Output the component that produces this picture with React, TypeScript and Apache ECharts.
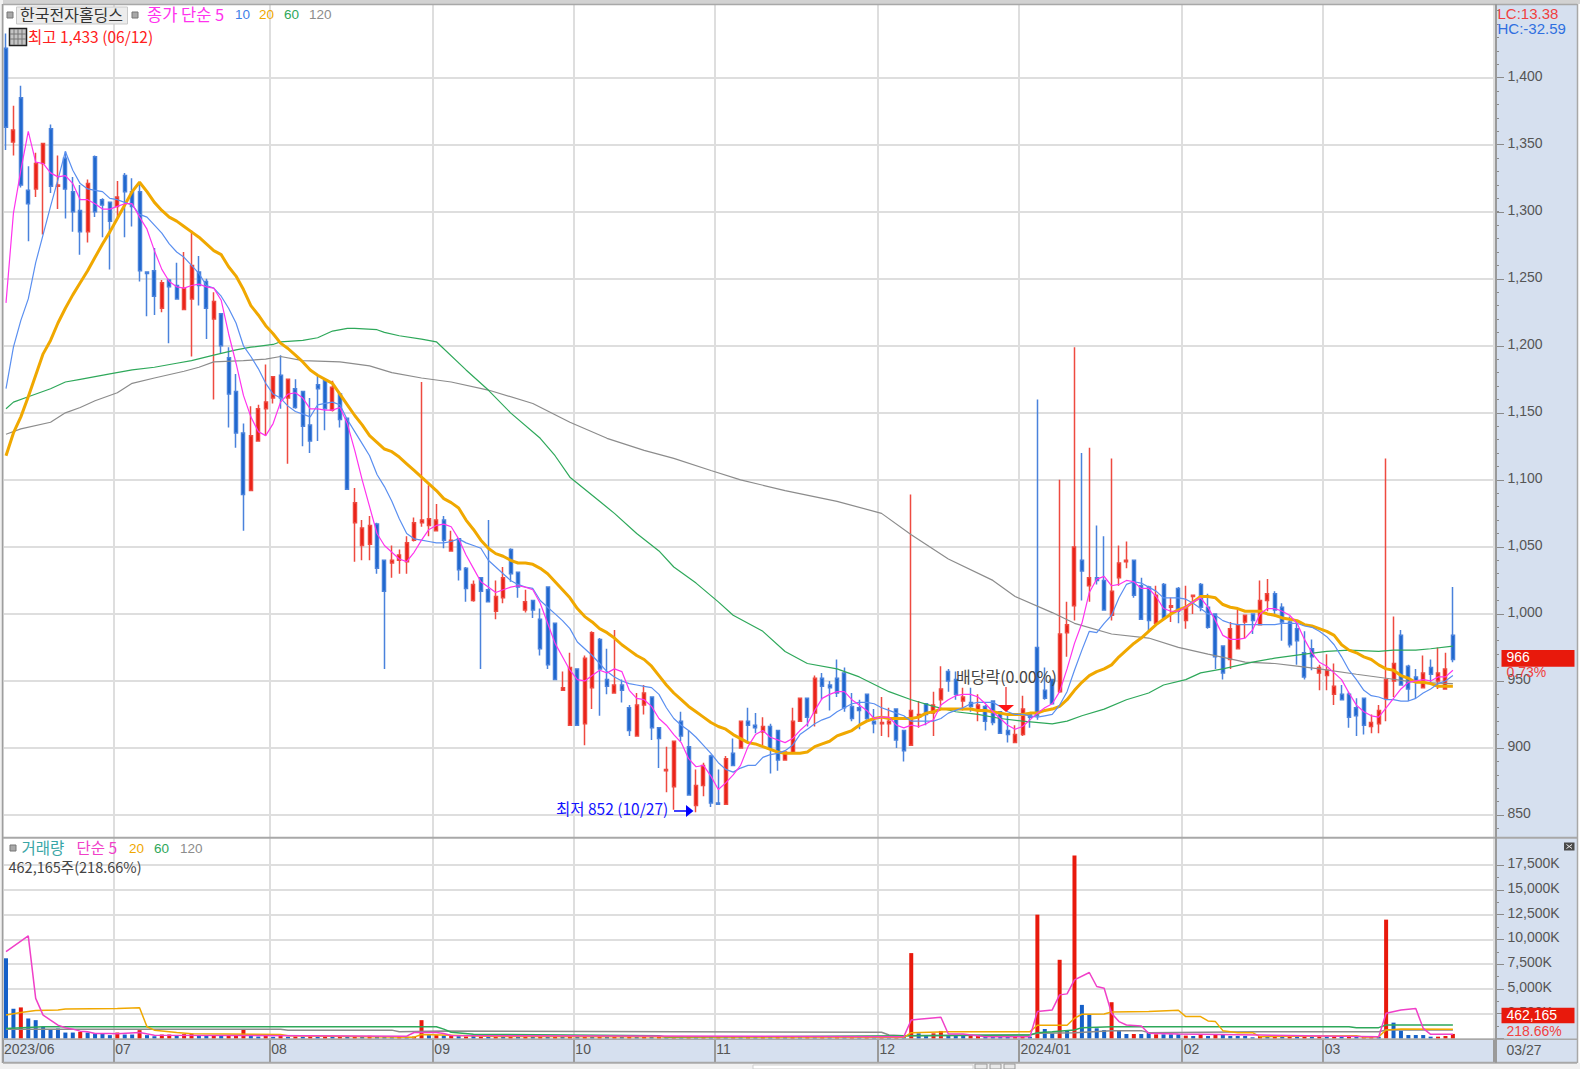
import React, { useEffect, useRef } from "react";
import * as echarts from "echarts";

const opens = [1422,1352,1385,1316,1317,1336,1362,1319,1340,1315,1301,1285,1341,1309,1307,1304,1327,1315,1315,1255,1256,1228,1249,1245,1227,1235,1255,1248,1220,1224,1191,1166,1135,1092,1129,1153,1161,1178,1161,1168,1166,1141,1171,1174,1152,1164,1146,1068,1051,1052,1067,1040,1038,1040,1039,1055,1068,1066,1062,1070,1047,1056,1034,1010,1027,1018,1002,1012,1048,1031,1003,1010,996,1020,993,943,917,959,918,945,981,951,941,947,930,909,932,938,915,883,871,920,901,857,872,894,859,858,896,900,920,917,912,916,913,891,896,920,937,926,952,947,952,956,931,930,940,920,918,918,929,913,902,923,933,926,936,957,951,935,934,928,931,935,927,913,904,910,925,975,943,951,942,986,1006,1040,1021,1027,1025,999,1027,1039,1040,1021,1020,993,1022,1005,1019,995,1013,1022,1005,1000,976,966,974,994,1000,992,1010,1015,1005,994,989,971,974,956,954,940,940,940,930,937,916,918,937,950,984,961,953,945,960,950,944,984];
const closes = [1363,1361,1320,1306,1336,1351,1319,1320,1317,1300,1285,1321,1300,1305,1293,1311,1315,1304,1256,1254,1237,1247,1244,1235,1243,1260,1245,1228,1233,1200,1164,1135,1089,1133,1153,1158,1177,1161,1175,1154,1140,1129,1168,1153,1169,1145,1093,1083,1064,1066,1034,1017,1040,1044,1053,1068,1070,1071,1070,1055,1055,1033,1019,1022,1017,1009,1013,1027,1030,1020,1009,1003,974,962,951,945,960,917,967,986,959,946,947,943,913,932,941,915,907,884,905,909,865,872,887,859,858,892,887,920,917,915,916,899,891,897,920,937,923,952,946,945,941,930,922,928,922,918,919,920,906,898,928,925,925,932,944,950,940,938,931,932,920,919,911,910,910,929,923,924,937,933,985,992,1050,1032,1027,1025,1003,1017,1038,1040,1014,996,995,1014,997,1006,1002,1005,1014,1005,990,968,956,989,992,999,995,1010,1015,1003,994,977,980,953,968,960,958,946,936,923,924,917,919,928,951,963,947,944,950,956,955,956,959,966];
const lows = [1346,1342,1318,1278,1311,1283,1314,1302,1295,1285,1268,1277,1296,1281,1257,1296,1281,1289,1248,1222,1223,1225,1202,1235,1227,1192,1230,1205,1160,1194,1139,1124,1062,1092,1129,1133,1157,1153,1112,1153,1125,1120,1129,1137,1151,1139,1093,1039,1040,1040,1030,959,1027,1030,1030,1054,1065,1058,1062,1049,1047,1025,1009,1009,959,1009,996,1008,1024,1012,1001,997,969,959,951,943,917,917,902,929,924,940,941,934,909,909,925,906,885,867,854,905,865,852,864,856,858,858,887,900,904,911,902,881,883,891,896,920,916,916,936,928,938,927,920,914,921,911,909,908,900,890,902,915,917,909,931,942,936,928,927,920,913,917,911,904,904,909,915,921,936,933,941,968,995,1010,1009,1022,1003,995,1021,1034,1012,996,987,991,997,994,993,989,1000,1002,989,959,951,959,974,982,985,992,1002,998,980,975,962,951,958,943,943,932,936,915,909,910,911,911,920,938,947,935,937,945,949,944,944,964];
const highs = [1433,1379,1394,1334,1344,1351,1365,1342,1345,1326,1320,1324,1342,1310,1307,1323,1329,1325,1320,1255,1273,1249,1250,1262,1270,1286,1267,1250,1240,1224,1199,1179,1142,1155,1156,1186,1177,1193,1175,1175,1166,1161,1178,1174,1174,1165,1146,1094,1070,1073,1068,1040,1051,1048,1058,1072,1173,1096,1082,1073,1062,1056,1035,1025,1027,1070,1025,1035,1049,1031,1018,1010,1004,1020,993,957,971,959,969,987,982,974,988,951,932,941,947,938,915,901,905,927,913,884,889,895,884,894,907,920,930,926,923,918,913,897,930,937,937,954,956,950,966,960,941,936,940,929,938,930,929,913,1089,935,933,942,961,959,957,945,945,940,932,935,927,925,917,939,925,1160,960,951,1100,1009,1199,1120,1124,1066,1058,1116,1051,1054,1040,1027,1021,1021,1023,1012,1020,1021,1014,1023,1015,1000,976,994,1003,999,1000,1025,1026,1017,1008,998,995,987,981,962,970,963,947,942,937,937,925,932,1116,998,988,962,959,969,966,975,971,1020];

const ma5 = [1232,1299,1331,1360,1337,1336,1329,1326,1327,1321,1309,1309,1306,1302,1302,1304,1306,1306,1296,1287,1271,1257,1248,1244,1243,1245,1246,1244,1243,1234,1209,1187,1163,1147,1136,1133,1142,1158,1164,1165,1161,1153,1153,1152,1152,1154,1142,1122,1100,1080,1060,1051,1046,1041,1039,1046,1055,1063,1066,1067,1065,1056,1044,1034,1024,1020,1016,1018,1020,1021,1020,1018,1008,993,978,968,958,951,950,954,958,956,959,957,943,937,936,931,922,917,910,904,892,886,887,879,869,874,880,887,901,910,913,908,906,904,907,913,918,928,937,940,942,942,936,932,928,922,923,923,917,915,917,916,918,921,932,936,939,940,940,938,933,927,922,917,914,916,921,926,930,933,942,959,978,993,1016,1026,1028,1021,1022,1025,1024,1019,1019,1013,1004,1002,1002,1005,1009,1012,1005,995,984,981,981,982,988,1000,1004,1004,1002,999,993,981,971,964,961,956,951,941,932,927,924,923,930,937,944,949,950,951,950,953,953,958];
const ma10 = [1168,1199,1219,1235,1262,1283,1304,1324,1345,1331,1321,1317,1316,1315,1310,1309,1307,1305,1298,1296,1290,1284,1276,1270,1266,1260,1254,1245,1243,1237,1228,1217,1200,1192,1183,1172,1164,1161,1155,1151,1149,1147,1156,1157,1158,1156,1145,1136,1127,1118,1104,1095,1084,1071,1060,1056,1055,1054,1053,1053,1054,1056,1053,1051,1049,1040,1035,1030,1025,1022,1020,1019,1010,1005,1000,995,989,979,974,969,963,957,953,950,948,947,946,945,940,930,922,917,913,908,902,896,889,884,882,885,887,887,893,895,896,898,902,910,914,918,921,923,927,930,933,934,934,933,930,928,926,924,920,920,920,920,922,926,928,930,933,934,934,934,931,927,925,925,924,923,924,925,932,942,958,973,987,986,993,999,1012,1022,1024,1023,1020,1017,1012,1012,1012,1011,1008,1004,1000,999,995,993,992,992,992,992,992,992,993,993,993,991,990,987,983,977,968,958,951,943,939,938,936,936,935,935,937,941,944,948,950,954];
const ma20 = [1118,1135,1147,1162,1178,1194,1204,1217,1228,1238,1247,1256,1266,1276,1285,1295,1305,1315,1322,1315,1307,1301,1296,1293,1289,1285,1281,1276,1271,1268,1259,1252,1242,1230,1223,1215,1209,1202,1198,1193,1188,1182,1178,1175,1172,1164,1156,1148,1141,1133,1128,1123,1121,1117,1112,1107,1102,1097,1092,1086,1083,1079,1070,1063,1055,1049,1045,1043,1040,1038,1038,1037,1034,1030,1024,1018,1012,1004,998,994,989,986,982,977,973,969,966,961,954,947,941,936,931,927,923,919,916,914,910,907,904,903,901,899,897,896,896,896,897,901,903,905,909,911,913,917,920,922,923,922,922,922,922,923,926,927,929,929,929,929,929,928,928,927,926,925,925,925,926,926,928,929,931,936,943,949,954,957,959,962,968,973,978,982,987,992,996,1000,1003,1005,1009,1013,1013,1012,1007,1005,1004,1002,1002,1002,1000,999,997,996,995,992,991,989,987,984,977,973,971,968,966,962,959,958,954,952,949,949,948,946,946,946];
const ma60: [number, number][] = [[0,1153],[1,1158],[3,1162],[6,1168],[8,1173],[10,1175],[14,1179],[17,1182],[20,1184],[23,1187],[25,1189],[28,1193],[31,1197],[33,1199],[36,1201],[37,1203],[40,1204],[42,1206],[44,1211],[46,1213],[47,1213],[50,1212],[51,1210],[53,1207.5],[56,1205],[58,1203],[62,1182],[65,1167],[68,1150],[72,1131],[74,1118],[76,1102],[80,1084],[82,1075],[85,1060],[88,1047],[90,1035],[93,1023],[96,1009],[98,999],[102,987],[105,972],[108,963],[112,959],[115,953],[119,942],[122,936],[125,931],[128,927],[131,925],[134,922],[137,920],[141,918],[143,920],[145,924],[148,929],[151,936],[154,941],[156,947],[159,951],[161,956],[164,959],[168,964],[171,967],[175,970],[178,972],[181,973],[185,972],[187,973],[190,973],[192,974],[195,976]];
const ma120: [number, number][] = [[0,1134],[2,1138],[6,1143],[8,1150],[10,1154],[12,1159],[15,1165],[17,1172],[20,1176],[24,1181],[26,1184],[28,1188],[32,1189],[35,1190],[37,1192],[40,1189],[45,1188],[49,1185],[52,1180],[56,1176],[60,1173],[65,1167],[71,1157],[76,1143],[81,1131],[86,1122],[90,1116],[95,1107],[99,1100],[105,1092],[112,1084],[118,1075],[122,1059],[127,1041],[133,1025],[136,1013],[141,1001],[144,993],[149,985],[154,982],[158,975],[162,970],[167,964],[171,963],[174,961],[177,959],[182,955],[186,952],[190,949],[195,948]];

const volumes = [8090,3000,3135,2020,1850,1180,940,1010,600,600,670,600,500,500,340,600,400,400,840,340,230,400,400,270,440,500,270,270,300,300,300,330,940,400,200,400,170,280,170,200,170,200,170,200,170,200,170,200,170,270,240,170,140,200,170,200,1850,340,340,300,300,240,200,250,180,220,170,220,180,230,170,210,170,230,170,200,160,230,170,210,160,220,170,210,170,220,180,220,170,200,170,210,160,200,170,200,170,220,170,210,150,210,160,190,150,200,150,200,150,190,150,200,150,190,150,180,150,190,140,180,140,180,8614,520,290,520,760,290,290,290,250,250,185,185,185,185,185,250,185,12490,960,520,7940,860,18460,3390,2380,1030,860,3660,860,455,455,455,590,420,420,420,420,290,250,455,250,455,455,250,250,250,120,250,150,180,160,190,160,200,170,200,170,190,170,250,250,185,185,185,11990,1600,790,350,350,350,185,185,250,462];
const volumeRedDays = [2,10,15,18,21,22,24,25,28,30,31,32,35,37,39,41,43,45,47,49,53,55,56,58,60,62,64,66,68,70,72,74,76,78,80,82,84,86,88,90,92,94,96,98,100,102,104,106,108,110,112,114,116,118,120,122,125,126,130,131,136,137,139,142,144,149,152,155,159,161,163,169,171,173,175,177,179,181,183,184,186,193,194,195];
const volMa5: [number, number][] = [[0,8766],[3,10350],[4,4046],[5,2360],[6,1854],[7,1349],[8,1079],[9,944],[10,742],[11,674],[12,506],[14,506],[15,472],[18,607],[20,337],[54,236],[55,607],[58,607],[59,506],[60,300],[121,185],[122,1871],[123,1950],[126,2141],[127,455],[129,455],[132,185],[138,185],[139,2714],[141,2883],[142,4400],[143,4501],[144,5917],[146,6659],[147,5243],[148,5074],[149,2545],[150,1703],[151,1365],[153,1264],[154,522],[158,455],[169,354],[185,185],[186,2545],[188,2883],[190,3017],[191,1028],[192,421],[195,421]];
const volMa20: [number, number][] = [[0,2360],[2,2630],[4,2832],[7,2866],[8,2967],[15,3034],[18,3100],[19,1180],[20,843],[23,607],[25,472],[37,405],[38,270],[55,135],[56,405],[60,337],[66,200],[121,118],[122,590],[127,690],[138,690],[139,1332],[143,1332],[144,2040],[145,2444],[148,2478],[149,2680],[154,2714],[158,2849],[159,2208],[161,2208],[162,1770],[163,1703],[164,792],[166,590],[168,590],[169,185],[182,287],[183,118],[185,185],[186,860],[188,960],[195,927]];
const volMa60: [number, number][] = [[0,1011],[5,1180],[58,1180],[59,944],[60,624],[63,421],[88,287],[89,118],[121,287],[138,354],[139,590],[141,690],[144,860],[145,1096],[149,1197],[181,1197],[182,1096],[185,1096],[186,1365],[195,1365]];
const volMa120: [number, number][] = [[0,944],[37,944],[38,843],[52,843],[53,674],[59,758],[118,624],[119,354],[121,287],[138,354],[139,522],[144,590],[149,792],[153,792],[154,590],[169,690],[185,690],[186,860],[195,860]];

const monthTicks: Record<number, string> = { 0: "2023/06", 15: "07", 36: "08", 58: "09", 77: "10", 96: "11", 118: "12", 137: "2024/01", 159: "02", 178: "03" };
const priceTicks = { min: 850, max: 1400, step: 50 };
const volumeTicks = { min: 0, max: 17500, step: 2500 };

const FONT = '"Liberation Sans",sans-serif';
const KR = '"Noto Sans CJK KR",sans-serif';
const RED = "#e8190c";
const BLUE = "#1560c8";
const PANEL = "#d6e0ef";
const LINE = "#dedede";

const bandCount = 201;
const categories = Array.from({ length: bandCount }, (_, i) => monthTicks[i] ?? String(i));
const isMonth = (i: number) => monthTicks[i] !== undefined;

const txt = (text: string, x: number, y: number, fill: string, fontSize = 14, fontFamily = FONT) => ({
  type: "text" as const,
  z: 100,
  silent: true,
  style: { text, x, y, fill, fontSize, fontFamily, verticalAlign: "middle", align: "left" },
});
const box = (x: number, y: number, width: number, height: number, fill: string, stroke?: string, z = 100, lineWidth = 1) => ({
  type: "rect" as const,
  z,
  silent: true,
  shape: { x, y, width, height },
  style: { fill, stroke: stroke ?? "none", lineWidth },
});
const seg = (x1: number, y1: number, x2: number, y2: number, stroke: string, lineWidth = 1, z = 100) => ({
  type: "line" as const,
  z,
  silent: true,
  shape: { x1, y1, x2, y2 },
  style: { stroke, lineWidth },
});

const gridIcon = [
  box(9.5, 28.5, 17, 17, "#c4c4c4", "#222", 100, 1.5),
  seg(14, 29, 14, 45, "#777"),
  seg(18, 29, 18, 45, "#777"),
  seg(22, 29, 22, 45, "#777"),
  seg(10, 34, 26, 34, "#777"),
  seg(10, 39, 26, 39, "#777"),
];

const graphics = [
  box(0, 0, 1580, 4, "#d2d2d2", undefined, -5),
  box(0, 0, 3, 1069, "#f1f1f1", undefined, -5),
  box(1496, 4, 81, 1058, PANEL, undefined, -5),
  box(3, 1039.5, 1574, 23, PANEL, undefined, -5),
  box(0, 1063, 1580, 6, "#f1f1f1", undefined, 90),
  box(753, 1065, 220, 4, "#ffffff", "#cfcfcf", 91),
  box(975, 1064, 12, 5, "#e9e9e9", "#999", 91),
  box(990, 1064, 11, 5, "#e9e9e9", "#999", 91),
  box(1004, 1064, 11, 5, "#e9e9e9", "#999", 91),
  seg(3, 4.5, 1577, 4.5, "#a8a8a8", 1.5, 95),
  seg(2.5, 4, 2.5, 1063, "#9e9e9e", 1.5, 95),
  seg(3, 837.7, 1577, 837.7, "#a8a8a8", 2, 95),
  seg(3, 1039.3, 1577, 1039.3, "#a8a8a8", 1.5, 95),
  seg(3, 1062.7, 1577, 1062.7, "#a8a8a8", 2, 95),
  seg(1496, 4, 1496, 1063, "#9a9a9a", 2, 95),
  seg(1577.5, 4, 1577.5, 1063, "#a8a8a8", 1.5, 95),

  box(7, 12, 6, 6, "#a8a8a8", "#777"),
  box(16.5, 7, 111, 17, "#ececec", "#c9c9c9"),
  txt("한국전자홀딩스", 20, 14, "#333", 16, KR),
  box(132, 12, 6, 6, "#a8a8a8", "#777"),
  txt("종가 단순 5", 147, 13.5, "#ff33ee", 16.5, KR),
  txt("10", 235, 14, "#3f7fe8", 13.5),
  txt("20", 259, 14, "#f0a800", 13.5),
  txt("60", 284, 14, "#2ea85a", 13.5),
  txt("120", 309, 14, "#8c8c8c", 13.5),
  ...gridIcon,
  txt("최고 1,433 (06/12)", 28, 35.5, "#ff2020", 15.5, KR),

  txt("최저 852 (10/27)", 556, 808, "#1414ff", 15.5, KR),
  seg(674, 811, 688, 811, "#0000ff", 1.5),
  { type: "polygon" as const, z: 100, silent: true, shape: { points: [[686, 805], [693.5, 811], [686, 817]] }, style: { fill: "#0000ff" } },

  txt("배당락(0.00%)", 956, 675.5, "#444", 16, KR),
  seg(1006, 687, 1006, 705, "#ee2020", 1.2),
  { type: "polygon" as const, z: 100, silent: true, shape: { points: [[998, 705], [1014, 705], [1006, 712]] }, style: { fill: "#ff1414" } },

  txt("LC:13.38", 1497.5, 13, "#f04040", 15),
  txt("HC:-32.59", 1497.5, 28.5, "#2f6fe0", 15),
  box(1501.5, 650, 73, 16.7, "#e8190c"),
  txt("966", 1506.5, 657, "#fff"),
  txt("0.73%", 1506.5, 672, "#f04040"),

  box(10, 845, 6, 6, "#a8a8a8", "#777"),
  txt("거래량", 21.5, 846.5, "#3aa6a6", 15.5, KR),
  txt("단순 5", 76.5, 846.5, "#f040c8", 15.5, KR),
  txt("20", 129, 848, "#f0a800", 13.5),
  txt("60", 154, 848, "#2ea85a", 13.5),
  txt("120", 180, 848, "#8c8c8c", 13.5),
  txt("462,165주(218.66%)", 8.5, 866, "#444", 14.5, KR),
  box(1564, 842.5, 10.5, 8, "#4a4a4a"),
  seg(1566.5, 844.5, 1572, 848.5, "#eee"),
  seg(1566.5, 848.5, 1572, 844.5, "#eee"),

  box(1501.5, 1007.7, 73, 15.6, "#e8190c"),
  txt("462,165", 1506.5, 1015, "#fff"),
  txt("218.66%", 1506.5, 1030.5, "#f04040"),
  txt("03/27", 1506.5, 1050, "#555"),
];

const gridLeft = 2.3;
const gridWidth = 1491.4;
const hiddenX = (gridIndex: number) => ({ type: "category" as const, gridIndex, data: categories, show: false });

const App = () => {
  const ref = useRef<HTMLDivElement>(null);
  useEffect(() => {
    document.body.style.margin = "0";
    const chart = echarts.init(ref.current!, undefined, { renderer: "svg" });
    const monthSplit = { show: true, interval: (i: number) => isMonth(i), lineStyle: { color: LINE, width: 2 } };
    const mainLine = (name: string, data: unknown, color: string, width: number, z: number) => ({
      name,
      type: "line" as const,
      xAxisIndex: 2,
      yAxisIndex: 2,
      data,
      showSymbol: false,
      clip: false,
      silent: true,
      z,
      lineStyle: { color, width },
    });
    const volLine = (name: string, data: unknown, color: string, width: number, z: number) => ({
      name,
      type: "line" as const,
      xAxisIndex: 3,
      yAxisIndex: 3,
      data,
      showSymbol: false,
      clip: false,
      silent: true,
      z,
      lineStyle: { color, width },
    });
    chart.setOption({
      animation: false,
      textStyle: { fontFamily: FONT },
      grid: [
        { left: gridLeft, width: gridWidth, top: 4, height: 833.7 },
        { left: gridLeft, width: gridWidth, top: 10.65, height: 817.75 },
        { left: gridLeft, width: gridWidth, top: 77.7, height: 737.3 },
        { left: gridLeft, width: gridWidth, top: 865, height: 173.5 },
        { left: gridLeft, width: gridWidth, top: 837.7, height: 200.8 },
      ],
      xAxis: [
        {
          type: "category",
          gridIndex: 0,
          data: categories,
          axisLine: { show: false },
          axisTick: { show: false },
          axisLabel: { show: false },
          splitLine: monthSplit,
        },
        hiddenX(1),
        hiddenX(2),
        hiddenX(3),
        {
          type: "category",
          gridIndex: 4,
          data: categories,
          axisLine: { show: false },
          axisTick: { show: true, length: 24, interval: (i: number) => isMonth(i), lineStyle: { color: "#9a9a9a", width: 2 } },
          axisLabel: {
            show: true,
            interval: (i: number) => isMonth(i),
            formatter: (v: string) => v,
            align: "left",
            margin: 3,
            padding: [0, 0, 0, -2],
            fontSize: 14,
            fontFamily: FONT,
            color: "#555",
          },
          splitLine: monthSplit,
        },
      ],
      yAxis: [
        { type: "value", gridIndex: 0, min: 0, max: 1, show: false },
        {
          type: "value",
          gridIndex: 1,
          position: "right",
          offset: 2.3,
          min: 840,
          max: 1450,
          interval: 10,
          axisLine: { show: false },
          axisLabel: { show: false },
          splitLine: { show: false },
          axisTick: { show: true, length: 3, lineStyle: { color: "#8a8a8a", width: 1 } },
        },
        {
          type: "value",
          gridIndex: 2,
          position: "right",
          offset: 2.3,
          min: priceTicks.min,
          max: priceTicks.max,
          interval: priceTicks.step,
          axisLine: { show: false },
          axisTick: { show: true, length: 8, lineStyle: { color: "#8a8a8a", width: 1 } },
          axisLabel: {
            margin: 11.5,
            verticalAlign: "bottom",
            lineHeight: 4,
            fontSize: 14,
            fontFamily: FONT,
            color: "#555",
            formatter: (v: number) => v.toLocaleString("en-US"),
          },
          splitLine: { show: true, lineStyle: { color: LINE, width: 2 } },
        },
        {
          type: "value",
          gridIndex: 3,
          position: "right",
          offset: 2.3,
          min: volumeTicks.min,
          max: volumeTicks.max,
          interval: volumeTicks.step,
          axisLine: { show: false },
          axisTick: { show: true, length: 8, lineStyle: { color: "#8a8a8a", width: 1 } },
          minorTick: { show: true, splitNumber: 2, length: 3, lineStyle: { color: "#8a8a8a", width: 1 } },
          axisLabel: {
            margin: 11.5,
            verticalAlign: "bottom",
            lineHeight: 4,
            fontSize: 14,
            fontFamily: FONT,
            color: "#555",
            formatter: (v: number) => (v === 0 ? "" : v.toLocaleString("en-US") + "K"),
          },
          splitLine: { show: true, lineStyle: { color: LINE, width: 2 } },
        },
        { type: "value", gridIndex: 4, min: 0, max: 1, show: false },
      ],
      series: [
        {
          name: "가격",
          type: "candlestick",
          xAxisIndex: 2,
          yAxisIndex: 2,
          clip: false,
          silent: true,
          z: 2,
          barWidth: 3.5,
          data: opens.map((o, i) => [o, closes[i], lows[i], highs[i]]),
          itemStyle: {
            color: RED,
            color0: BLUE,
            borderColor: "#ee4a40",
            borderColor0: "#4a82dc",
            borderColorDoji: "#ee4a40",
            borderWidth: 1.5,
          },
        },
        mainLine("120", ma120, "#8c8c8c", 1.2, 3),
        mainLine("60", ma60, "#2ea85a", 1.2, 3),
        mainLine("20", ma20, "#f0a800", 3, 4),
        mainLine("10", ma10, "#5a8ff0", 1.2, 5),
        mainLine("5", ma5, "#ff33ee", 1.2, 6),
        {
          name: "거래량",
          type: "bar",
          xAxisIndex: 3,
          yAxisIndex: 3,
          clip: false,
          silent: true,
          z: 2,
          barWidth: 4,
          data: volumes,
          itemStyle: { color: (p: { dataIndex: number }) => (volumeRedDays.includes(p.dataIndex) ? RED : BLUE) },
        },
        volLine("거래량 120", volMa120, "#8c8c8c", 1.5, 3),
        volLine("거래량 60", volMa60, "#2ea85a", 1.5, 3),
        volLine("거래량 20", volMa20, "#f0a800", 1.5, 4),
        volLine("거래량 5", volMa5, "#f040c8", 1.5, 5),
      ],
      graphic: { elements: graphics },
    });
    return () => chart.dispose();
  }, []);
  return <div ref={ref} style={{ position: "fixed", left: 0, top: 0, width: 1580, height: 1069, background: "#fff" }} />;
};

export default App;
